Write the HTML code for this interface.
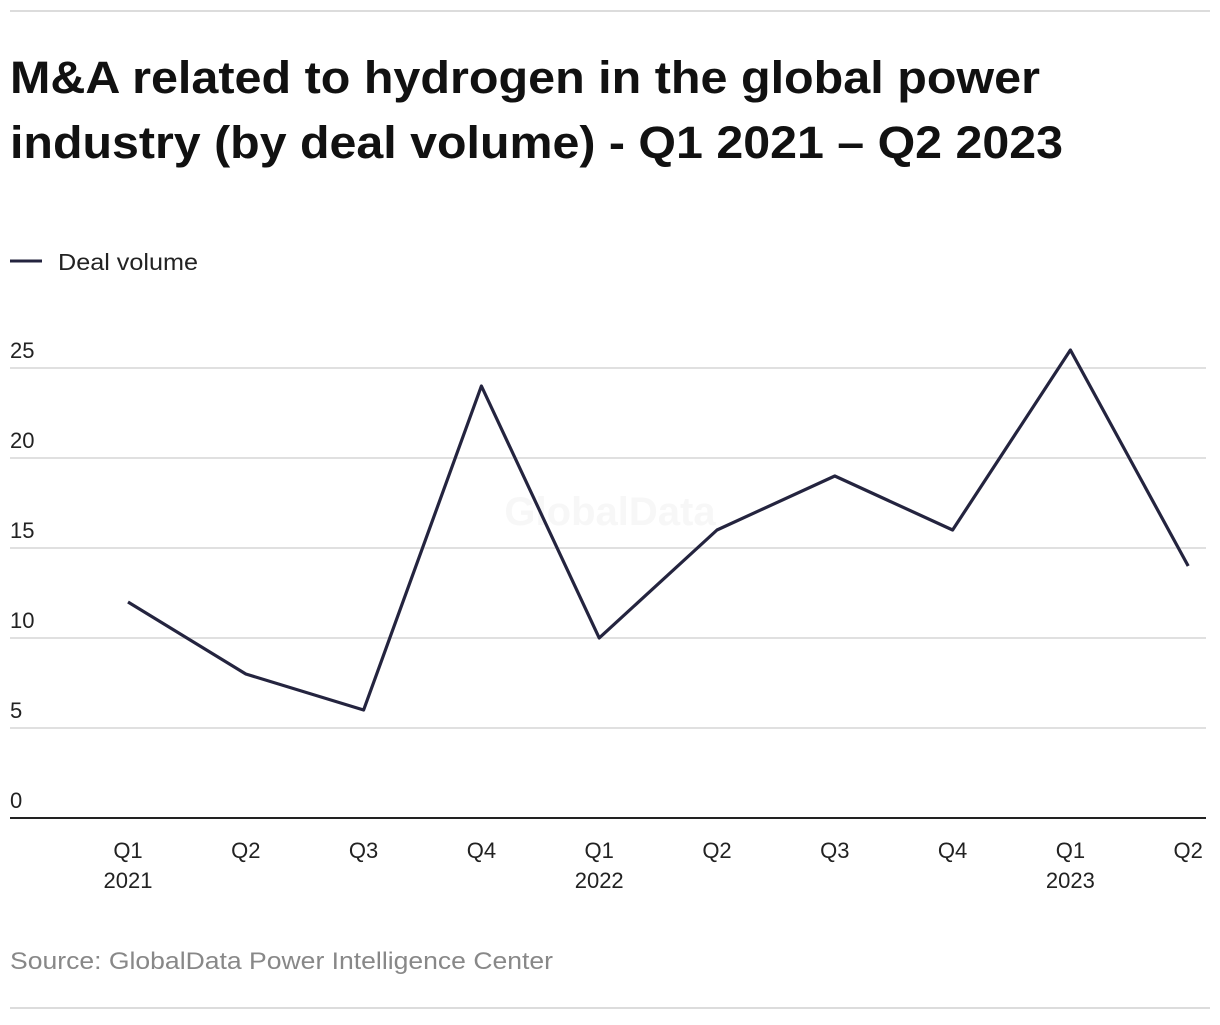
<!DOCTYPE html>
<html><head><meta charset="utf-8"><style>
body{margin:0;background:#fff;width:1220px;height:1020px;overflow:hidden;font-family:"Liberation Sans",sans-serif;color:#1a1a2e}
</style></head><body>
<svg id="chart" width="1220" height="1020" xmlns="http://www.w3.org/2000/svg">
<line x1="10" y1="11" x2="1210" y2="11" stroke="#d0d0d0" stroke-width="1.5"/>
<line x1="10" y1="1008" x2="1210" y2="1008" stroke="#d0d0d0" stroke-width="1.5"/>
<text font-family="Liberation Sans, sans-serif" font-weight="bold" font-size="45" fill="#111">
<tspan x="10" y="93" textLength="1030" lengthAdjust="spacingAndGlyphs">M&amp;A related to hydrogen in the global power</tspan>
<tspan x="10" y="158" textLength="1053" lengthAdjust="spacingAndGlyphs">industry (by deal volume) - Q1 2021 – Q2 2023</tspan></text>
<line x1="10" y1="261" x2="42" y2="261" stroke="#24243f" stroke-width="3"/>
<text x="58" y="270" font-size="23" fill="#222" textLength="140" lengthAdjust="spacingAndGlyphs">Deal volume</text>
<text x="610" y="525" text-anchor="middle" font-size="40" font-weight="bold" fill="#f7f7f7">GlobalData</text>
<g id="grid"></g><g id="xlabels"></g>
<path id="line" fill="none" stroke="#24243f" stroke-width="3.2" stroke-linejoin="round"/>
<text x="10" y="969" font-size="24" fill="#888" textLength="543" lengthAdjust="spacingAndGlyphs">Source: GlobalData Power Intelligence Center</text>
</svg>
<script>
const categories=["Q1","Q2","Q3","Q4","Q1","Q2","Q3","Q4","Q1","Q2"];
const years=["2021","","","","2022","","","","2023",""];
const values=[12,8,6,24,10,16,19,16,26,14];
const yTicks=[0,5,10,15,20,25];
const NS="http://www.w3.org/2000/svg";
const y=v=>818-v*18;
const x=i=>128+i*117.8;
const grid=document.getElementById('grid');
yTicks.forEach(t=>{
 const l=document.createElementNS(NS,'line');
 
 
 l.setAttribute('x1',10);l.setAttribute('x2',1206);l.setAttribute('y1',y(t));l.setAttribute('y2',y(t));
 l.setAttribute('stroke',t===0?'#222':'#d6d6d6');l.setAttribute('stroke-width',t===0?2:1.5);
 grid.appendChild(l);
 const tx=document.createElementNS(NS,'text');
 
 
 tx.setAttribute('x',10);tx.setAttribute('y',y(t)-10);tx.setAttribute('font-size','22');tx.setAttribute('fill','#222');
 tx.textContent=t;grid.appendChild(tx);
});
const xl=document.getElementById('xlabels');
categories.forEach((c,i)=>{
 const tx=document.createElementNS(NS,'text');
 
 
 tx.setAttribute('x',x(i));tx.setAttribute('y',858);tx.setAttribute('text-anchor','middle');tx.setAttribute('font-size','22');tx.setAttribute('fill','#222');
 tx.textContent=c;xl.appendChild(tx);
 if(years[i]){const t2=document.createElementNS(NS,'text');
 
 
 t2.setAttribute('x',x(i));t2.setAttribute('y',888);t2.setAttribute('text-anchor','middle');t2.setAttribute('font-size','22');t2.setAttribute('fill','#222');
 t2.textContent=years[i];xl.appendChild(t2);}
});
document.getElementById('line').setAttribute('d',values.map((v,i)=>(i?'L':'M')+x(i)+' '+y(v)).join(' '));
</script>
</body></html>
